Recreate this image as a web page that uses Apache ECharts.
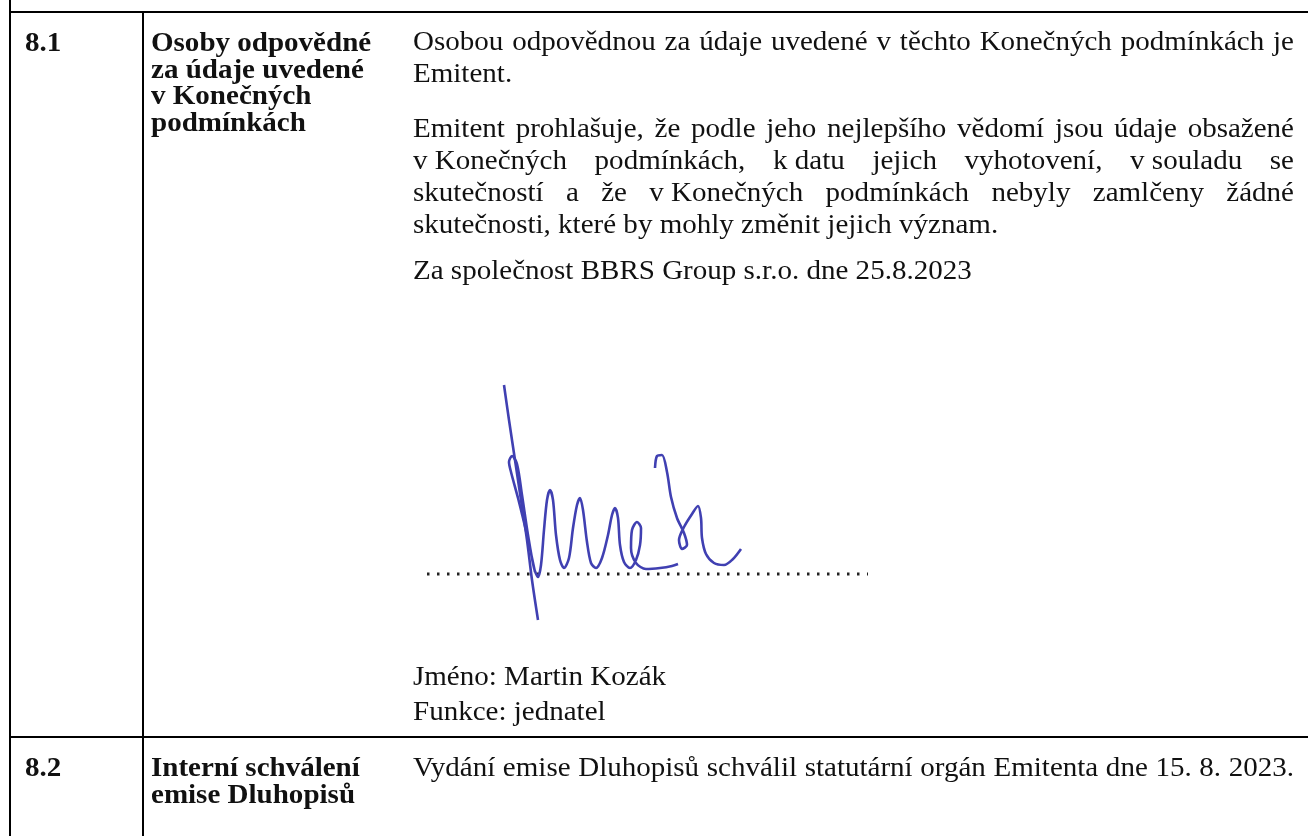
<!DOCTYPE html>
<html>
<head>
<meta charset="utf-8" />
<title>Konečné podmínky 8.1 - 8.2</title>
<script src="https://cdn.jsdelivr.net/npm/echarts@6/dist/echarts.min.js"></script>
<style>
  html, body { margin: 0; padding: 0; background: #fff; }
  #main { width: 1308px; height: 836px; }
</style>
</head>
<body>
<div id="main"></div>
<script type="text/javascript">
// --- content ---
var sectionNumbers = ['8.1', '8.2'];
var sectionTitles = [
    ['Osoby odpovědné', 'za údaje uvedené', 'v Konečných', 'podmínkách'],
    ['Interní schválení', 'emise Dluhopisů']
];
var body81 = [
    'Osobou odpovědnou za údaje uvedené v těchto Konečných podmínkách je',
    'Emitent.',
    'Emitent prohlašuje, že podle jeho nejlepšího vědomí jsou údaje obsažené',
    'v\u00a0Konečných podmínkách, k\u00a0datu jejich vyhotovení, v\u00a0souladu se',
    'skutečností a že v\u00a0Konečných podmínkách nebyly zamlčeny žádné',
    'skutečnosti, které by mohly změnit jejich význam.',
    'Za společnost BBRS Group s.r.o. dne 25.8.2023'
];
var signerLines = ['Jméno: Martin Kozák', 'Funkce: jednatel'];
var body82 = ['Vydání emise Dluhopisů schválil statutární orgán Emitenta dne 15. 8. 2023.'];

// signature strokes (page pixel space)
var sigLong = [[504, 385], [509, 420], [515, 460], [521, 500], [527, 540], [532, 580], [538, 620]];
var sigMain = [[535, 572], [527, 535], [518, 498], [511, 472], [509, 462], [512, 456], [517, 464], [522, 495],
    [528, 535], [534, 568], [538, 577], [541, 565], [544, 530], [547, 500], [550, 490], [553, 500], [556, 535],
    [560, 560], [564, 568], [569, 558], [573, 528], [577, 505], [580, 498], [583, 510], [587, 542], [591, 563],
    [596, 568], [602, 558], [608, 535], [612, 515], [615, 508], [618, 518], [620, 545], [624, 562], [630, 568],
    [636, 560], [640, 545], [641, 528], [637, 522], [632, 530], [631, 548], [636, 563], [646, 569], [660, 568],
    [672, 566], [678, 564]];
var sigTail = [[655, 468], [657, 456], [662, 455], [667, 472], [671, 497], [677, 518], [684, 533], [687, 545],
    [682, 549], [679, 540], [684, 527], [692, 514], [698, 506], [701, 518], [702, 538], [706, 554], [714, 563],
    [724, 565], [733, 559], [741, 549]];
var dotLine = [[427, 574], [868, 574]];

// --- layout ---
var FS = 27, SX = 1.075;
var COL1_X = 25, COL2_X = 151, COL3_X = 413, RIGHT = 1294;
var body81Base = [52, 84, 139, 171, 203, 235, 281];
var body81Justify = [true, false, true, true, true, false, false];
var titleBase = [[53, 80, 106, 133], [778, 805]];
var numberBase = [53, 778];
var signerBase = [687, 722];
var body82Base = [778];

var cv = document.createElement('canvas').getContext('2d');
function fontOf(bold) {
    return (bold ? 'bold ' : '') + FS + 'px "Liberation Serif", "Times New Roman", serif';
}
function measure(s, bold) {
    cv.font = fontOf(bold);
    return cv.measureText(s).width * SX;
}
function textEl(s, x, base, bold, sx) {
    return {
        type: 'text', x: x, y: base - FS * 0.33, scaleX: sx || SX, silent: true,
        style: {
            text: s, font: fontOf(bold), fill: '#111',
            align: 'left', verticalAlign: 'middle'
        }
    };
}
function lineEls(s, x, base, bold, justify) {
    if (!justify) return [textEl(s, x, base, bold)];
    var words = s.split(' ');
    var widths = words.map(function (w) { return measure(w, bold); });
    var total = widths.reduce(function (a, b) { return a + b; }, 0);
    var gap = (RIGHT - x - total) / (words.length - 1);
    var els = [], cx = x;
    if (gap < measure(' ', bold) * 0.6) {
        var nat = measure(s, bold);
        return [textEl(s, x, base, bold, SX * (RIGHT - x) / nat)];
    }
    words.forEach(function (w, i) {
        els.push(textEl(w, cx, base, bold));
        cx += widths[i] + gap;
    });
    return els;
}

var graphics = [];
function rule(x1, y1, x2, y2) {
    graphics.push({
        type: 'line', silent: true,
        shape: { x1: x1, y1: y1, x2: x2, y2: y2 },
        style: { stroke: '#000', lineWidth: 2 }
    });
}
rule(10, 0, 10, 836);
rule(10, 12, 1308, 12);
rule(143, 12, 143, 836);
rule(10, 737, 1308, 737);

sectionNumbers.forEach(function (n, i) {
    graphics.push(textEl(n, COL1_X, numberBase[i], true));
});
sectionTitles.forEach(function (lines, i) {
    lines.forEach(function (t, j) {
        graphics.push(textEl(t, COL2_X, titleBase[i][j], true));
    });
});
body81.forEach(function (t, i) {
    graphics = graphics.concat(lineEls(t, COL3_X, body81Base[i], false, body81Justify[i]));
});
signerLines.forEach(function (t, i) {
    graphics.push(textEl(t, COL3_X, signerBase[i], false));
});
body82.forEach(function (t, i) {
    graphics = graphics.concat(lineEls(t, COL3_X, body82Base[i], false, true));
});

var chart = echarts.init(document.getElementById('main'));
var sigStyle = { color: '#4040b2', width: 2.6 };
var option = {
    animation: false,
    backgroundColor: '#fff',
    grid: { left: 0, right: 0, top: 0, bottom: 0 },
    xAxis: { type: 'value', min: 0, max: 1308, show: false },
    yAxis: { type: 'value', min: 0, max: 836, inverse: true, show: false },
    series: [{
        type: 'line', data: dotLine, showSymbol: false, silent: true,
        lineStyle: { color: '#222', width: 2.8, type: [2.5, 7.5] }
    }, {
        type: 'line', data: sigLong, showSymbol: false, silent: true, smooth: 0.3, lineStyle: sigStyle
    }, {
        type: 'line', data: sigMain, showSymbol: false, silent: true, smooth: 0.3, lineStyle: sigStyle
    }, {
        type: 'line', data: sigTail, showSymbol: false, silent: true, smooth: 0.3, lineStyle: sigStyle
    }],
    graphic: graphics
};
chart.setOption(option);
</script>
</body>
</html>
